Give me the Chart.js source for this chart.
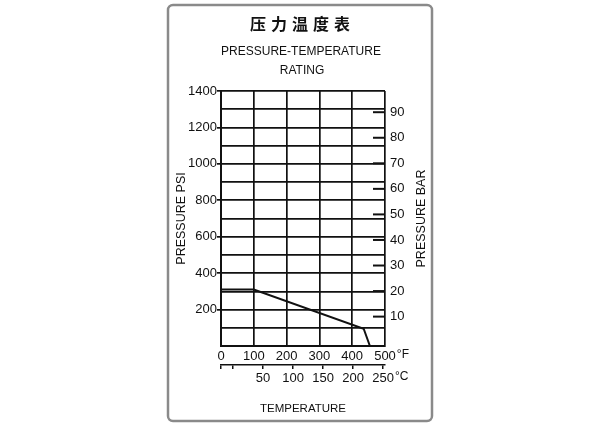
<!DOCTYPE html>
<html>
<head>
<meta charset="utf-8">
<script src="https://cdn.jsdelivr.net/npm/chart.js@4.4.1/dist/chart.umd.min.js"></script>
<style>
  html, body { margin: 0; padding: 0; background: #fff; }
  #wrap { width: 600px; height: 425px; }
</style>
</head>
<body>
<div id="wrap"><canvas id="ratingChart"></canvas></div>
<script>
// pressure-temperature curve
const tempF = [0, 100, 435, 454];
const pressurePsi = [310, 310, 95, 0];

const psiTicks = [200, 400, 600, 800, 1000, 1200, 1400];
const barTicks = [10, 20, 30, 40, 50, 60, 70, 80, 90];
const fahrenheitTicks = [0, 100, 200, 300, 400, 500];
const celsiusTicks = [50, 100, 150, 200, 250];

// how the secondary scales sit against the main ones in the picture
const barRange = [-1.5, 98.3];
const celsiusRange = [-20, 253];

const sans = '"Liberation Sans", Arial, sans-serif';
const ink = '#111';

const frameAndText = {
    id: 'frameAndText',
    beforeDraw(chart) {
        const ctx = chart.ctx;
        ctx.save();
        ctx.fillStyle = '#fff';
        ctx.fillRect(0, 0, chart.width, chart.height);

        ctx.strokeStyle = '#8a8a8a';
        ctx.lineWidth = 2.5;
        ctx.beginPath();
        ctx.roundRect(168, 5, 264, 416, 5);
        ctx.stroke();

        ctx.fillStyle = ink;
        ctx.textAlign = 'center';
        ctx.textBaseline = 'middle';
        ctx.font = '700 16px "Noto Sans CJK SC"';
        ctx.letterSpacing = '5px';
        ctx.fillText('压力温度表', 302.5, 24);
        ctx.letterSpacing = '0px';
        ctx.font = '12px ' + sans;
        ctx.fillText('PRESSURE-TEMPERATURE', 301, 52);
        ctx.fillText('RATING', 302, 71);
        ctx.restore();
    },
    afterDatasetsDraw(chart) {
        const {ctx, chartArea, scales} = chart;
        ctx.save();
        // bar marks sit inside the right edge
        ctx.strokeStyle = ink;
        ctx.lineWidth = 2;
        barTicks.forEach(v => {
            const py = scales.y2.getPixelForValue(v);
            ctx.beginPath();
            ctx.moveTo(chartArea.right - 12, py);
            ctx.lineTo(chartArea.right, py);
            ctx.stroke();
        });

        // unit marks after the last labels
        ctx.fillStyle = ink;
        ctx.textBaseline = 'middle';
        ctx.textAlign = 'left';
        ctx.font = '13px ' + sans;
        const lastF = fahrenheitTicks[fahrenheitTicks.length - 1];
        const lastC = celsiusTicks[celsiusTicks.length - 1];
        const wF = ctx.measureText(String(lastF)).width;
        const wC = ctx.measureText(String(lastC)).width;
        ctx.font = '12px ' + sans;
        ctx.fillText('°F', scales.x.getPixelForValue(lastF) + wF / 2 + 1, 355);
        ctx.fillText('°C', scales.xC.getPixelForValue(lastC) + wC / 2 + 1, 377);

        // right title reads bottom to top, like the left one
        ctx.translate(422, (chartArea.top + chartArea.bottom) / 2);
        ctx.rotate(-Math.PI / 2);
        ctx.textAlign = 'center';
        ctx.font = '12.5px ' + sans;
        ctx.fillText('PRESSURE BAR', 0, 0);
        ctx.restore();
    }
};

function renderChart() {
    const ctx = document.getElementById('ratingChart');

    new Chart(ctx, {
        type: 'line',
        data: {
            datasets: [{
                data: tempF.map((t, i) => ({x: t, y: pressurePsi[i]})),
                borderColor: ink,
                borderWidth: 2,
                pointRadius: 0,
                tension: 0,
                xAxisID: 'x',
                yAxisID: 'y'
            }]
        },
        options: {
            responsive: true,
            maintainAspectRatio: false,
            animation: false,
            layout: {
                padding: {left: 168, right: 168, top: 91, bottom: 0}
            },
            scales: {
                x: {
                    type: 'linear',
                    position: 'bottom',
                    weight: 0,
                    min: 0,
                    max: 500,
                    afterFit: s => { s.height = 19; },
                    afterBuildTicks: s => { s.ticks = fahrenheitTicks.map(v => ({value: v})); },
                    ticks: {
                        padding: 3,
                        color: ink,
                        font: {family: sans, size: 13},
                        maxRotation: 0,
                        autoSkip: false
                    },
                    grid: {color: ink, lineWidth: 1.7, drawTicks: false},
                    border: {display: true, color: ink, width: 2}
                },
                xC: {
                    type: 'linear',
                    position: 'bottom',
                    weight: 1,
                    min: celsiusRange[0],
                    max: celsiusRange[1],
                    afterFit: s => { s.height = 60; },
                    afterBuildTicks: s => {
                        s.ticks = [celsiusRange[0], 0].concat(celsiusTicks).map(v => ({value: v}));
                    },
                    ticks: {
                        padding: 2,
                        color: ink,
                        font: {family: sans, size: 13},
                        maxRotation: 0,
                        autoSkip: false,
                        callback: v => celsiusTicks.includes(v) ? String(v) : ''
                    },
                    grid: {color: ink, lineWidth: 1.5, drawOnChartArea: false, tickLength: 4},
                    border: {display: true, color: ink, width: 1.5},
                    title: {
                        display: true,
                        text: 'TEMPERATURE',
                        color: ink,
                        font: {family: sans, size: 11.5},
                        padding: {top: 0, bottom: 9}
                    }
                },
                y: {
                    type: 'linear',
                    position: 'left',
                    min: 0,
                    max: 1400,
                    afterFit: s => { s.width = 53; },
                    ticks: {
                        stepSize: 100,
                        padding: 0,
                        color: ink,
                        font: {family: sans, size: 13},
                        autoSkip: false,
                        callback: v => psiTicks.includes(v) ? String(v) : ''
                    },
                    grid: {
                        color: ink,
                        lineWidth: 1.7,
                        tickLength: 4,
                        tickColor: c => psiTicks.includes(c.tick && c.tick.value) ? ink : 'rgba(0,0,0,0)'
                    },
                    border: {display: true, color: ink, width: 2},
                    title: {
                        display: true,
                        text: 'PRESSURE PSI',
                        color: ink,
                        font: {family: sans, size: 12.5},
                        padding: {top: 6.5, bottom: 0}
                    }
                },
                y2: {
                    type: 'linear',
                    position: 'right',
                    min: barRange[0],
                    max: barRange[1],
                    afterFit: s => { s.width = 47; },
                    afterBuildTicks: s => { s.ticks = barTicks.map(v => ({value: v})); },
                    ticks: {
                        padding: 5,
                        color: ink,
                        font: {family: sans, size: 13},
                        autoSkip: false
                    },
                    grid: {display: false, drawTicks: false},
                    border: {display: false}
                }
            },
            plugins: {
                legend: {
                    display: false
                },
                tooltip: {
                    enabled: false
                }
            }
        },
        plugins: [frameAndText]
    });
}

renderChart();
</script>
</body>
</html>
